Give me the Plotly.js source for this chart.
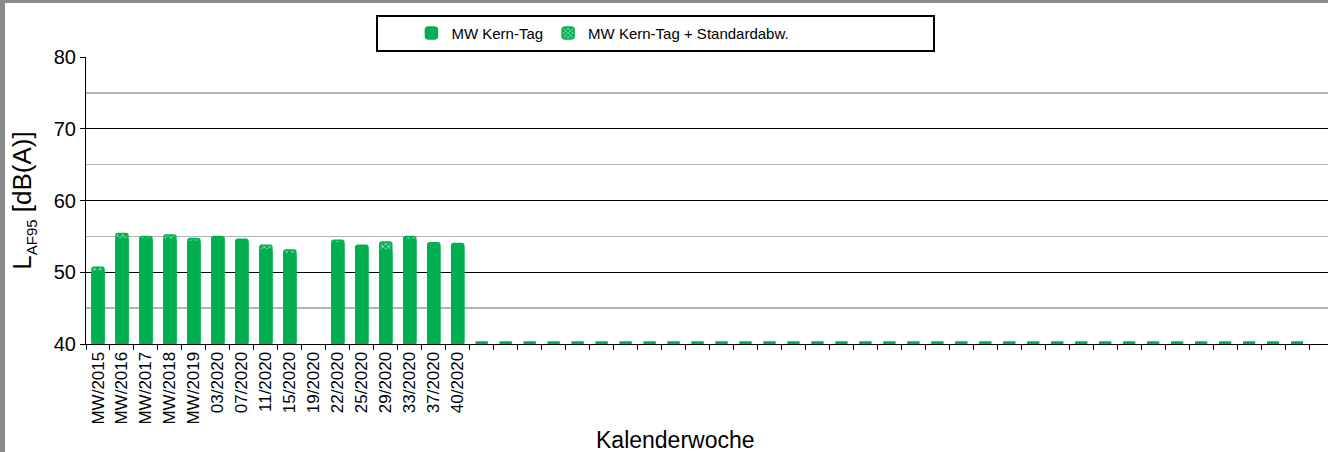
<!DOCTYPE html>
<html><head><meta charset="utf-8">
<script src="https://cdn.plot.ly/plotly-3.0.1.min.js"></script>
<style>
html,body{margin:0;padding:0;background:#fff;}
#wrap{position:relative;width:1328px;height:452px;overflow:hidden;}
#chart{width:1328px;height:452px;}
.frame{position:absolute;background:#8c8c8c;}
</style>
</head><body>
<div id="wrap"><div id="chart"></div>
<div class="frame" style="left:0;top:0;width:5px;height:452px"></div>
<div class="frame" style="left:0;top:0;width:1328px;height:3px"></div>
</div>
<script>
// Category labels (16 labelled weeks, then 35 unlabelled slots)
const weekLabels = ['MW/2015','MW/2016','MW/2017','MW/2018','MW/2019','03/2020','07/2020','11/2020','15/2020','19/2020','22/2020','25/2020','29/2020','33/2020','37/2020','40/2020'];
const blankSlotCount = 35;

// MW Kern-Tag [dB(A)]
const mwKernTag = [50.15, 54.7, 54.7, 54.65, 54.3, 54.9, 54.4, 53.15, 52.6, null, 54.1, 53.65, 53.1, 54.6, 53.9, 53.8,
  0,0,0,0,0,0,0,0,0,0,0,0,0,0,0,0,0,0,0,0,0,0,0,0,0,0,0,0,0,0,0,0,0,0,0];
// MW Kern-Tag + Standardabweichung [dB(A)]
const mwKernTagPlusSd = [50.7, 55.4, 55.0, 55.2, 54.7, 55.0, 54.6, 53.75, 53.1, null, 54.45, 53.75, 54.2, 55.0, 54.1, 54.0,
  0,0,0,0,0,0,0,0,0,0,0,0,0,0,0,0,0,0,0,0,0,0,0,0,0,0,0,0,0,0,0,0,0,0,0];

const Y_MIN = 40, Y_MAX = 80;
const GREEN = '#00B050';
const FONT = 'Liberation Sans, Arial, sans-serif';

const slotIds = [];
for (let i = 0; i < blankSlotCount; i++) slotIds.push('slot' + (i + 1));
const categories = weekLabels.concat(slotIds);
const tickText = weekLabels.concat(slotIds.map(() => ''));

const toHeight = v => (v == null ? null : Math.max(v - Y_MIN, 0));
const lineWidths = vals => vals.map(v => (v != null && v <= Y_MIN ? 5 : 1.5));

const traceSd = {
  type: 'bar', name: 'MW Kern-Tag + Standardabw.', legendrank: 2,
  x: categories, y: mwKernTagPlusSd.map(toHeight), base: Y_MIN,
  customdata: mwKernTagPlusSd, hovertemplate: '%{customdata} dB(A)<extra></extra>',
  marker: {color: GREEN, cornerradius: 2,
    pattern: {shape: 'x', fgcolor: '#ffffff', bgcolor: GREEN, size: 4, solidity: 0.25},
    line: {color: GREEN, width: lineWidths(mwKernTagPlusSd)}}
};
const traceMw = {
  type: 'bar', name: 'MW Kern-Tag', legendrank: 1,
  x: categories, y: mwKernTag.map(toHeight), base: Y_MIN,
  customdata: mwKernTag, hovertemplate: '%{customdata} dB(A)<extra></extra>',
  marker: {color: GREEN, cornerradius: 2, line: {color: GREEN, width: lineWidths(mwKernTag)}}
};

const layout = {
  width: 1328, height: 452,
  margin: {l: 86, r: 0, t: 57, b: 108},
  paper_bgcolor: '#ffffff', plot_bgcolor: '#ffffff',
  font: {family: FONT, color: '#000000'},
  barmode: 'overlay', bargap: 0.5,
  showlegend: true,
  legend: {orientation: 'h', x: 0.262, xanchor: 'left', y: 1.14, yanchor: 'top',
    borderwidth: 0, bgcolor: 'rgba(0,0,0,0)',
    font: {family: FONT, size: 15, color: '#000000'}, itemwidth: 30},
  shapes: [{type: 'rect', xref: 'paper', yref: 'paper',
    x0: (377 - 86) / 1242, x1: (934 - 86) / 1242, y0: (344 - 51) / 287, y1: (344 - 16) / 287,
    line: {color: '#000000', width: 2}, fillcolor: 'rgba(0,0,0,0)', layer: 'below'}],
  annotations: [{text: 'Kalenderwoche', xref: 'paper', yref: 'paper',
    x: (675 - 86) / 1242, y: (344 - 440) / 287, xanchor: 'center', yanchor: 'middle',
    showarrow: false, font: {family: FONT, size: 23, color: '#000000'}}],
  xaxis: {
    type: 'category', categoryorder: 'array', categoryarray: categories,
    tickmode: 'array', tickvals: categories, ticktext: tickText,
    tickson: 'boundaries', ticks: 'outside', ticklen: 5, tickcolor: '#000000',
    showline: true, linecolor: '#000000', linewidth: 1, showgrid: false,
    tickangle: -90, tickfont: {family: FONT, size: 17, color: '#000000'},
    range: [-0.5, 51.29]
  },
  yaxis: {
    range: [Y_MIN, Y_MAX], tick0: Y_MIN, dtick: 10,
    showgrid: true, gridcolor: '#000000', gridwidth: 1, zeroline: false,
    minor: {dtick: 5, tick0: 45, showgrid: true, gridcolor: '#b3b3b3', gridwidth: 1.5, ticks: ''},
    showline: true, linecolor: '#000000', linewidth: 1,
    ticks: 'outside', ticklen: 5, tickcolor: '#000000',
    tickfont: {family: FONT, size: 20, color: '#000000'},
    title: {text: 'L<sub><span style="font-size:15px">AF95</span></sub> [dB(A)]',
      font: {family: FONT, size: 26, color: '#000000'}, standoff: 14}
  }
};

Plotly.newPlot('chart', [traceSd, traceMw], layout, {displayModeBar: false, staticPlot: true});
</script>
</body></html>
